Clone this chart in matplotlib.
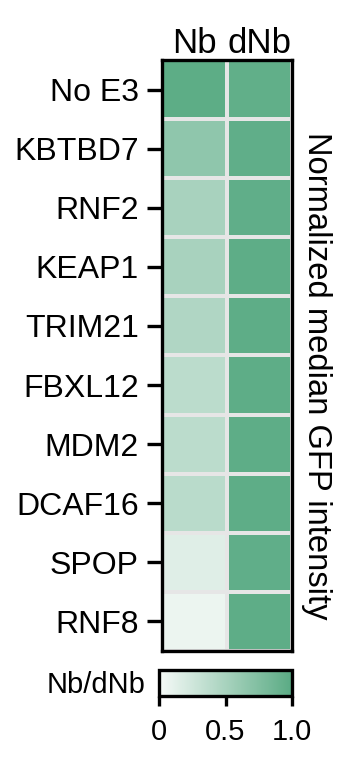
import numpy as np
import matplotlib.pyplot as plt
from matplotlib.colors import LinearSegmentedColormap

plt.rcParams['font.family'] = ['Liberation Sans', 'DejaVu Sans']

ligases = ['No E3', 'KBTBD7', 'RNF2', 'KEAP1', 'TRIM21', 'FBXL12', 'MDM2', 'DCAF16', 'SPOP', 'RNF8']
columns = ['Nb', 'dNb']
nb_vals = [0.98, 0.66, 0.50, 0.50, 0.45, 0.38, 0.38, 0.39, 0.15, 0.07]
dnb_vals = [0.95, 0.96, 0.96, 0.97, 0.97, 0.97, 0.97, 0.97, 0.96, 0.97]

cmap = LinearSegmentedColormap.from_list('grn', ['#f6faf8', '#5aab84'])
data = np.column_stack([nb_vals, dnb_vals])

fig = plt.figure(figsize=(1.78, 3.81), dpi=200)
ax = fig.add_axes([0.456, 0.146, 0.364, 0.775])
ax.pcolormesh(data, cmap=cmap, vmin=0, vmax=1, edgecolors='#e6e6e6', linewidth=0.8)
ax.set_ylim(len(ligases), 0)
ax.set_xlim(0, 2)
ax.set_yticks(np.arange(len(ligases)) + 0.5)
ax.set_yticklabels(ligases, fontsize=11.5)
ax.set_xticks(np.arange(2) + 0.5)
ax.set_xticklabels(columns, fontsize=12.5)
ax.xaxis.tick_top()
ax.tick_params(axis='x', length=0, pad=0)
ax.tick_params(axis='y', length=5.5, width=1.2, pad=3)
for s in ax.spines.values():
    s.set_linewidth(1.2)
ax.text(1.19, 0.465, 'Normalized median GFP intensity', rotation=-90, fontsize=11.8,
        ha='center', va='center', transform=ax.transAxes)

cax = fig.add_axes([0.447, 0.086, 0.373, 0.035])
cb = fig.colorbar(plt.cm.ScalarMappable(cmap=cmap, norm=plt.Normalize(0, 1)), cax=cax,
                  orientation='horizontal')
cb.set_ticks([0, 0.5, 1.0])
cb.set_ticklabels(['0', '0.5', '1.0'])
cax.tick_params(length=3.6, width=1.2, labelsize=10.5, pad=4)
cb.outline.set_linewidth(1.2)
fig.text(0.41, 0.101, 'Nb/dNb', ha='right', va='center', fontsize=10.5)

fig.savefig('out.png', dpi=200)
